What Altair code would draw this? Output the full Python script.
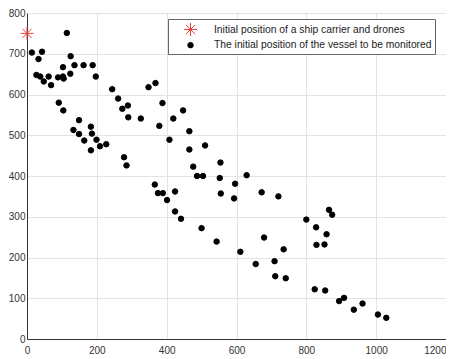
import altair as alt
import pandas as pd

# Initial position of the ship carrier and drones
carrier_x = [0]
carrier_y = [750]

# Initial positions of the vessels to be monitored
vessel_x = [14, 33, 43, 27, 38, 48, 62, 69, 114, 103, 89, 105, 124, 103, 125, 136, 162, 188, 197,
            91, 104, 149, 133, 149, 164, 183, 186, 199, 183, 209, 227, 244, 261, 289, 273, 290,
            278, 285, 326, 348, 368, 388, 379, 408, 419, 447, 465, 465, 476, 487, 504, 510, 552,
            554, 629, 366, 375, 389, 401, 424, 424, 441, 500, 543, 555, 596, 593, 672, 720, 865,
            874, 800, 828, 858, 829, 852, 679, 611, 735, 655, 709, 711, 741, 824, 854, 894, 908,
            961, 936, 1005, 1029]
vessel_y = [703, 687, 705, 648, 644, 632, 644, 623, 751, 644, 642, 639, 651, 667, 694, 672, 672, 672, 644,
            580, 561, 537, 513, 503, 487, 521, 504, 489, 463, 473, 478, 613, 590, 573, 565, 544,
            446, 426, 541, 618, 628, 579, 523, 489, 541, 561, 510, 465, 423, 400, 400, 475, 395,
            433, 402, 379, 358, 358, 341, 362, 313, 295, 272, 239, 357, 381, 345, 360, 350, 317,
            305, 293, 274, 257, 231, 232, 249, 214, 220, 184, 191, 154, 149, 122, 119, 93, 101,
            87, 72, 60, 52]

series_names = ["Initial position of a ship carrier and drones",
                "The initial position of the vessel to be monitored"]

df = pd.concat([
    pd.DataFrame({"x": carrier_x, "y": carrier_y, "series": series_names[0]}),
    pd.DataFrame({"x": vessel_x, "y": vessel_y, "series": series_names[1]}),
])

star = "M0,-1L0,1M-1,0L1,0M-0.7,-0.7L0.7,0.7M-0.7,0.7L0.7,-0.7"

chart = alt.Chart(df).mark_point(filled=True, strokeWidth=1, opacity=1).encode(
    x=alt.X("x:Q", scale=alt.Scale(domain=[0, 1200], nice=False),
            axis=alt.Axis(values=[0, 200, 400, 600, 800, 1000, 1200], title=None,
                          format="d", labelPadding=6, labelFlush=False,
                          labelAlign={"expr": "datum.value >= 1200 ? 'right' : 'center'"})),
    y=alt.Y("y:Q", scale=alt.Scale(domain=[0, 800], nice=False),
            axis=alt.Axis(values=[0, 100, 200, 300, 400, 500, 600, 700, 800], title=None,
                          format="d", labelPadding=2)),
    color=alt.Color("series:N", scale=alt.Scale(domain=series_names, range=["#e8413c", "#000000"]),
                    legend=alt.Legend(title=None)),
    stroke=alt.Stroke("series:N", scale=alt.Scale(domain=series_names, range=["#e8413c", "#000000"]),
                      legend=alt.Legend(title=None)),
    shape=alt.Shape("series:N", scale=alt.Scale(domain=series_names, range=[star, "circle"]),
                    legend=alt.Legend(title=None)),
    size=alt.Size("series:N", scale=alt.Scale(domain=series_names, range=[170, 30]),
                  legend=alt.Legend(title=None)),
).properties(
    width=419, height=326, padding={"left": 0, "top": 0, "right": 0, "bottom": 0}
).configure_view(
    stroke=None
).configure_axis(
    ticks=False,
    domainColor="#333333",
    domainWidth=1,
    gridColor="#e3e3e3",
    gridWidth=1,
    labelFont="Liberation Sans",
    labelFontSize=10,
    labelColor="#333333",
).configure_legend(
    orient="none",
    legendX=141,
    legendY=6,
    strokeColor="#666666",
    fillColor="#ffffff",
    padding=3,
    symbolOffset=12,
    labelOffset=16,
    labelLimit=0,
    labelFont="Liberation Sans",
    labelFontSize=10.3,
    labelColor="#222222",
    rowPadding=1,
    symbolStrokeWidth=1,
    cornerRadius=0,
)

chart.save("out.html", embed_options={"renderer": "svg", "actions": False})
